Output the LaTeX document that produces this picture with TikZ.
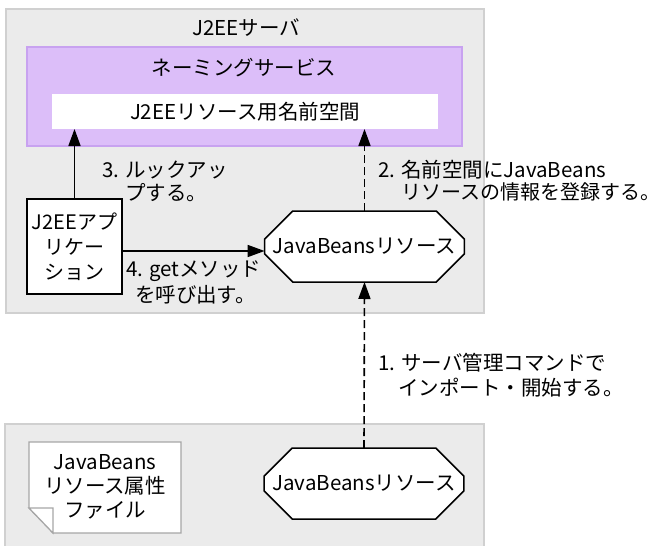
\documentclass[tikz,border=0pt]{standalone}
\usepackage{fontspec}
\setmainfont{Noto Sans CJK JP}
\usetikzlibrary{arrows.meta,shapes.misc}
\definecolor{grpfill}{HTML}{EBEBEB}
\definecolor{grpline}{HTML}{D0D0D0}
\definecolor{nsfill}{HTML}{DCBEF9}
\definecolor{nsline}{HTML}{C8A2F0}
\definecolor{docline}{HTML}{A6A6A6}
\begin{document}
\begin{tikzpicture}[x=1pt,y=-1pt,
  every node/.style={font=\fontsize{20.5pt}{25pt}\selectfont, inner sep=0pt, outer sep=0pt},
  grpbox/.style={rectangle, draw=grpline, fill=grpfill, line width=1.2pt},
  nsbox/.style={rectangle, draw=nsline, fill=nsfill, line width=1.2pt},
  whitebox/.style={rectangle, fill=white},
  appbox/.style={rectangle, draw=black, fill=white, line width=1.5pt, align=center,
    font=\fontsize{20pt}{25pt}\selectfont},
  octa/.style={chamfered rectangle, chamfered rectangle xsep=17pt, chamfered rectangle ysep=20pt,
    draw=black, fill=white, line width=1.5pt, minimum width=193pt, minimum height=71pt},
  lbl/.style={anchor=base west},
  conn/.style={line width=1.6pt, -{Triangle[length=17pt,width=12pt]}},
  dconn/.style={conn, dash pattern=on 8pt off 4pt}
]
\useasboundingbox (0,0) rectangle (665,546);
\fill[white] (0,0) rectangle (665,546);

% J2EE server group
\node (srv) [grpbox, minimum width=478pt, minimum height=304pt] at (245,161) {};
\node (srvtitle) at (246,28) {J2EEサーバ};
\node (naming) [nsbox, minimum width=435pt, minimum height=99pt] at (244.5,96.5) {};
\node (namingtitle) at (244,68) {ネーミングサービス};
\node (ns) [whitebox, minimum width=386pt, minimum height=35pt] at (245,111.5) {J2EEリソース用名前空間};

\node (app) [appbox, minimum width=95pt, minimum height=95pt] at (74.5,246.5) {J2EEアプ\\リケー\\ション};
\node (jb1) [octa] at (364.5,246.5) {JavaBeansリソース};

% lower group
\node (lower) [grpbox, minimum width=479pt, minimum height=140pt] at (244.5,494) {};
\filldraw[fill=white, draw=docline, line width=1.2pt]
  (29,442) -- (181,442) -- (181,533) -- (53,533) -- (29,508) -- cycle;
\filldraw[fill=white, draw=docline, line width=1.2pt]
  (29,508) -- (53,508) -- (53,533) -- cycle;
\node (doc) [align=center, font=\fontsize{20.5pt}{24pt}\selectfont] at (105,487) {JavaBeans\\リソース属性\\ファイル};
\node (jb2) [octa] at (364,483.5) {JavaBeansリソース};

% connectors
\draw[conn] (app.north) -- (app.north |- ns.south);
\draw[dconn] (jb1.north) -- (jb1.north |- ns.south);
\coordinate (a4s) at (122,251);
\draw[conn] (a4s) -- (a4s -| jb1.west);
\draw[dconn] (jb2.north) -- (jb1.south);

% labels
\node (l3a) [lbl] at (102,177.5) {3. ルックアッ};
\node (l3b) [lbl] at (125,200.5) {プする。};
\node (l2a) [lbl] at (378,177.5) {2. 名前空間にJavaBeans};
\node (l2b) [lbl, font=\fontsize{20pt}{25pt}\selectfont] at (401,199.5) {リソースの情報を登録する。};
\node (l4a) [lbl] at (126,276.5) {4. getメソッド};
\node (l4b) [lbl] at (135,302.5) {を呼び出す。};
\node (l1a) [lbl] at (378,370.5) {1. サーバ管理コマンドで};
\node (l1b) [lbl] at (398,395.5) {インポート・開始する。};
\end{tikzpicture}
\end{document}
